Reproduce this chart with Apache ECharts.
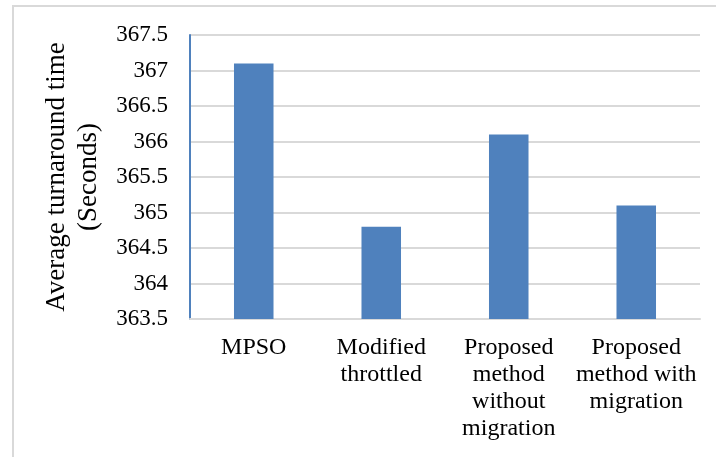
<!DOCTYPE html>
<html>
<head>
<meta charset="utf-8">
<script src="https://cdn.jsdelivr.net/npm/echarts@6/dist/echarts.min.js"></script>
<style>
  html, body { margin: 0; padding: 0; background: #fff; }
  #frame { position: absolute; left: 12px; top: 5px; width: 720px; height: 470px; border: 2px solid #d9d9d9; box-sizing: border-box; }
  #chart { position: absolute; left: 0; top: 0; width: 716px; height: 457px; }
</style>
</head>
<body>
<div id="frame"></div>
<div id="chart"></div>
<script>
const categories = [
  'MPSO',
  'Modified\nthrottled',
  'Proposed\nmethod\nwithout\nmigration',
  'Proposed\nmethod with\nmigration'
];
const turnaround = [367.1, 364.8, 366.1, 365.1];
const yMin = 363.5;
const yMax = 367.5;
const yStep = 0.5;
const yAxisTitle = 'Average turnaround time\n(Seconds)';

const chart = echarts.init(document.getElementById('chart'), null, { renderer: 'canvas' });
const serif = '"Liberation Serif", "Times New Roman", serif';

chart.setOption({
  backgroundColor: 'transparent',
  animation: false,
  grid: { left: 190, right: 16, top: 35, bottom: 138 },
  xAxis: {
    type: 'category',
    data: categories,
    axisLine: { show: true, lineStyle: { color: '#d9d9d9', width: 2 } },
    axisTick: { show: false },
    axisLabel: {
      color: '#000',
      fontFamily: serif,
      fontSize: 24,
      lineHeight: 27,
      margin: 15,
      interval: 0
    }
  },
  yAxis: {
    type: 'value',
    min: yMin,
    max: yMax,
    interval: yStep,
    name: yAxisTitle,
    nameLocation: 'middle',
    nameGap: 79,
    nameRotate: 90,
    nameTextStyle: {
      color: '#000',
      fontFamily: serif,
      fontSize: 27,
      lineHeight: 32,
      align: 'center'
    },
    axisLine: { show: true, lineStyle: { color: '#4f81bd', width: 2 } },
    axisTick: { show: false },
    axisLabel: {
      color: '#000',
      fontFamily: serif,
      fontSize: 23,
      margin: 22,
      formatter: v => String(parseFloat(v.toFixed(1)))
    },
    splitLine: { show: true, lineStyle: { color: '#d9d9d9', width: 2 } }
  },
  series: [{
    type: 'bar',
    data: turnaround,
    barWidth: '31%',
    itemStyle: { color: '#4f81bd' }
  }]
});
</script>
</body>
</html>
